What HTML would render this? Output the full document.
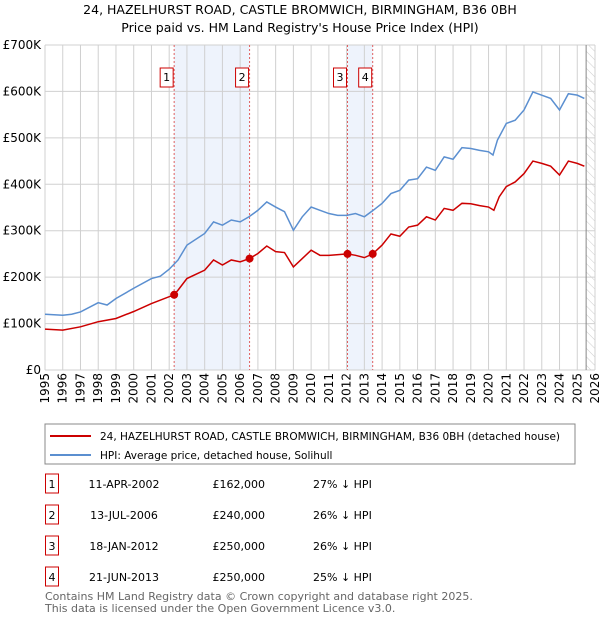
<!DOCTYPE html>
<html><head><meta charset="utf-8">
<style>
body{margin:0;width:600px;height:620px;background:#fff;font-family:"Liberation Sans","DejaVu Sans",sans-serif;overflow:hidden}
svg text{font-family:"DejaVu Sans","Liberation Sans",sans-serif}
</style></head>
<body>
<svg id="chart" width="600" height="620" xmlns="http://www.w3.org/2000/svg">
<text x="300" y="14" text-anchor="middle" font-size="12.5" fill="#000">24, HAZELHURST ROAD, CASTLE BROMWICH, BIRMINGHAM, B36 0BH</text>
<text x="300" y="32" text-anchor="middle" font-size="12.5" fill="#000">Price paid vs. HM Land Registry's House Price Index (HPI)</text>
<g id="plot"></g>
<rect x="45" y="424" width="530" height="40" fill="#fff" stroke="#888"/>
<line x1="50" y1="436" x2="91" y2="436" stroke="#cc0000" stroke-width="2"/>
<text x="100" y="440" font-size="10.5">24, HAZELHURST ROAD, CASTLE BROMWICH, BIRMINGHAM, B36 0BH (detached house)</text>
<line x1="50" y1="455" x2="91" y2="455" stroke="#5b8fd0" stroke-width="2"/>
<text x="100" y="459" font-size="10.5">HPI: Average price, detached house, Solihull</text>
<g id="table" font-size="11"></g>
<text x="45" y="600" font-size="11" fill="#666">Contains HM Land Registry data © Crown copyright and database right 2025.</text>
<text x="45" y="612" font-size="11" fill="#666">This data is licensed under the Open Government Licence v3.0.</text>
</svg>
<script>
const hpiYears=[1995,1996,1996.5,1997,1998,1998.5,1999,2000,2001,2001.5,2002,2002.5,2003,2004,2004.5,2005,2005.5,2006,2006.5,2007,2007.5,2008,2008.5,2009,2009.5,2010,2010.5,2011,2011.5,2012,2012.5,2013,2013.5,2014,2014.5,2015,2015.5,2016,2016.5,2017,2017.5,2018,2018.5,2019,2019.5,2020,2020.25,2020.5,2021,2021.5,2022,2022.5,2023,2023.5,2024,2024.5,2025,2025.4];
const hpiValues=[120,118,120,125,145,140,154,176,197,202,217,237,269,294,319,312,323,319,330,344,362,351,341,301,330,351,344,337,333,333,337,330,344,359,380,387,409,412,437,430,459,454,479,477,473,470,463,495,531,538,560,599,592,585,560,595,592,585];
const priceYears=[1995,1996,1997,1998,1999,2000,2001,2002.28,2002.5,2003,2004,2004.5,2005,2005.5,2006,2006.53,2007,2007.5,2008,2008.5,2009,2009.5,2010,2010.5,2011,2012.05,2012.5,2013,2013.47,2014,2014.5,2015,2015.5,2016,2016.5,2017,2017.5,2018,2018.5,2019,2019.5,2020,2020.3,2020.6,2021,2021.5,2022,2022.5,2023,2023.5,2024,2024.5,2025,2025.4];
const priceValues=[88,86,93,104,111,126,143,162,172,197,215,237,226,237,233,240,251,267,255,253,222,240,258,247,247,250,247,242,250,269,293,288,308,312,330,323,348,344,359,358,354,351,344,373,395,405,423,450,445,439,420,450,445,439];
const saleLabels=["1","2","3","4"];
const saleYears=[2002.28,2006.53,2012.05,2013.47];
const saleValues=[162,240,250,250];
const saleDates=["11-APR-2002","13-JUL-2006","18-JAN-2012","21-JUN-2013"];
const salePrices=["£162,000","£240,000","£250,000","£250,000"];
const saleDiffs=["27% ↓ HPI","26% ↓ HPI","26% ↓ HPI","25% ↓ HPI"];
const yTicks=[0,100,200,300,400,500,600,700];
const yTickLabels=["£0","£100K","£200K","£300K","£400K","£500K","£600K","£700K"];
const xTicks=[];for(let y=1995;y<=2026;y++)xTicks.push(y);

const X0=45,X1=595,Y0=370,Y1=45;
const xs=v=>X0+(v-1995)/31*(X1-X0);
const ys=v=>Y0-v/700*(Y0-Y1);
const NS="http://www.w3.org/2000/svg";
const plot=document.getElementById('plot');
function mk(tag,attrs,parent){const e=document.createElementNS(NS,tag);for(const k in attrs)e.setAttribute(k,attrs[k]);(parent||plot).appendChild(e);return e;}

let s1=mk('rect',{x:xs(saleYears[0]),y:Y1,width:xs(saleYears[1])-xs(saleYears[0]),height:Y0-Y1,fill:'#eef3fc'});


let s2=mk('rect',{x:xs(saleYears[2]),y:Y1,width:xs(saleYears[3])-xs(saleYears[2]),height:Y0-Y1,fill:'#eef3fc'});


const defs=mk('defs',{});
const pat=mk('pattern',{id:'hatch',width:6,height:6,patternUnits:'userSpaceOnUse',patternTransform:'rotate(-45)'},defs);
mk('line',{x1:0,y1:0,x2:0,y2:6,stroke:'#ccc','stroke-width':1},pat);
let hz=mk('rect',{x:xs(2025.5),y:Y1,width:X1-xs(2025.5),height:Y0-Y1,fill:'url(#hatch)'});



xTicks.forEach(t=>{
  const l=mk('line',{x1:xs(t),y1:Y1,x2:xs(t),y2:Y0,stroke:'#d0d0d0'});
  
  
  const x=xs(t)+4, y=Y0+3;
  const tx=mk('text',{x:x,y:y,'text-anchor':'end','font-size':12,transform:'rotate(-90 '+x+' '+y+')'});
  tx.textContent=t;
  
  
});
yTicks.forEach((t,i)=>{
  const l=mk('line',{x1:X0,y1:ys(t),x2:X1,y2:ys(t),stroke:'#d0d0d0'});
  
  
  const tx=mk('text',{x:X0-4,y:ys(t)+4,'text-anchor':'end','font-size':12});
  tx.textContent=yTickLabels[i];
  
  
});
let ln=mk('line',{x1:xs(2025.5),y1:Y1,x2:xs(2025.5),y2:Y0,stroke:'#888'});



saleYears.forEach((y,i)=>{
  const l=mk('line',{x1:xs(y),y1:Y1,x2:xs(y),y2:Y0,stroke:'#e06060','stroke-dasharray':'2,2'});
  
  
  const bx=mk('rect',{x:xs(y)-14,y:68,width:13,height:19,fill:'#fff',stroke:'#cc0000'});
  
  
  const t=mk('text',{x:xs(y)-7.5,y:81,'text-anchor':'middle','font-size':11});
  t.textContent=saleLabels[i];
  
  
});

const hp=mk('polyline',{points:hpiYears.map((y,i)=>xs(y)+','+ys(hpiValues[i])).join(' '),fill:'none',stroke:'#5b8fd0','stroke-width':1.5});


const pp=mk('polyline',{points:priceYears.map((y,i)=>xs(y)+','+ys(priceValues[i])).join(' '),fill:'none',stroke:'#cc0000','stroke-width':1.5});


saleYears.forEach((y,i)=>{
  const c=mk('circle',{cx:xs(y),cy:ys(saleValues[i]),r:4,fill:'#cc0000'});
  
  
});

const tb=document.getElementById('table');
saleLabels.forEach((lab,i)=>{
  const y=484+i*31;
  const b=mk('rect',{x:45.5,y:y-10,width:13,height:19,fill:'#fff',stroke:'#cc0000'},tb);
  
  
  const cols=[[52,lab,'middle'],[124,saleDates[i],'middle'],[265,salePrices[i],'end'],[313,saleDiffs[i],'start']];
  cols.forEach(c=>{
    const t=mk('text',{x:c[0],y:y+4,'text-anchor':c[2]},tb);
    t.textContent=c[1];
    
    
  });
});
</script>
</body></html>
